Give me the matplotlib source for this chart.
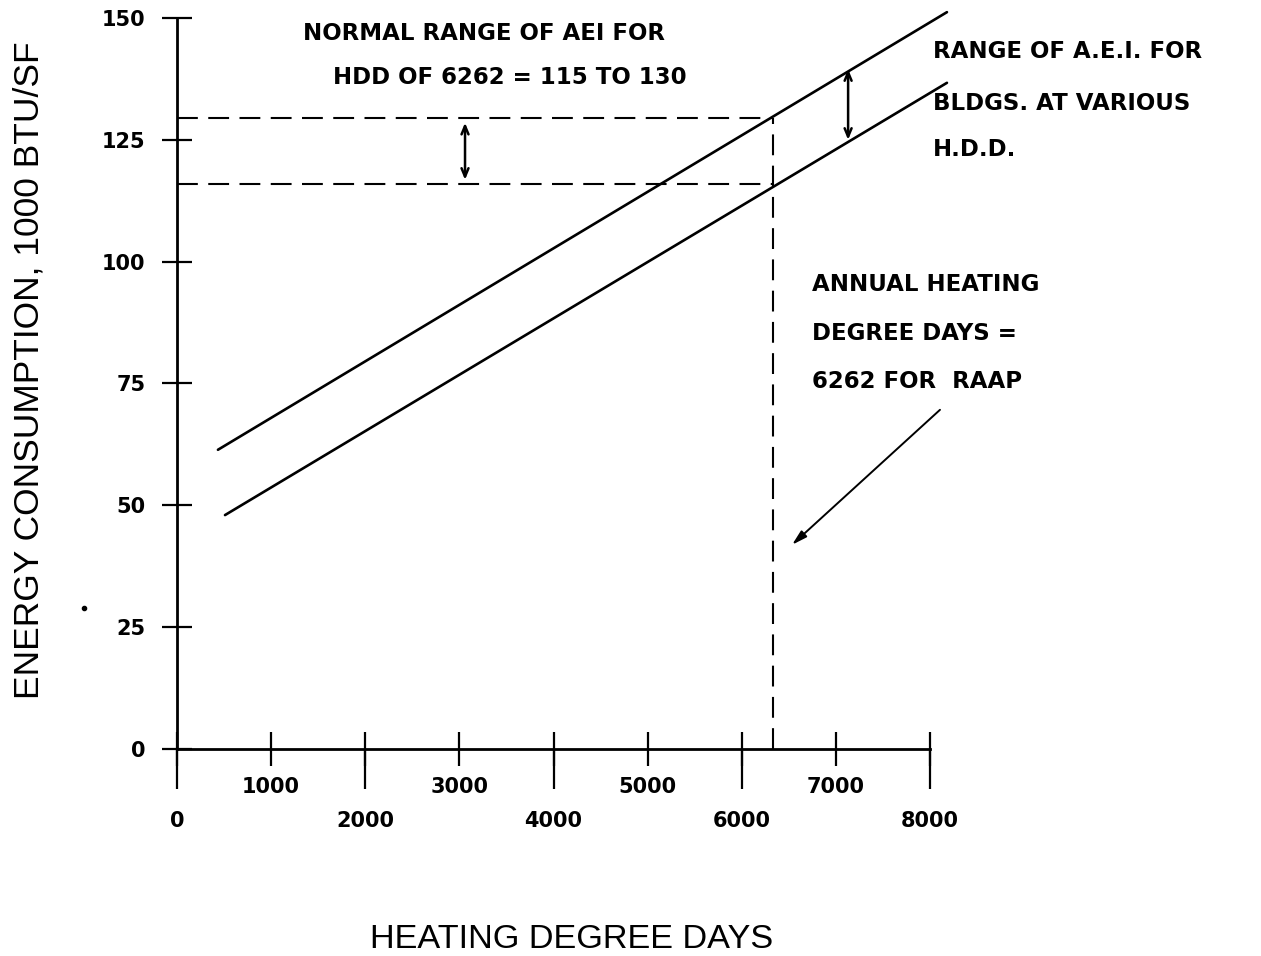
import matplotlib
matplotlib.use("Agg")
import matplotlib.pyplot as plt
from matplotlib.ticker import FixedLocator, FixedFormatter

# ---- data ----
hdd_ticks = [0, 1000, 2000, 3000, 4000, 5000, 6000, 7000, 8000]
hdd_odd_labels = ["", "1000", "", "3000", "", "5000", "", "7000", ""]
hdd_even = [0, 2000, 4000, 6000, 8000]
hdd_even_labels = ["0", "2000", "4000", "6000", "8000"]
aei_ticks = [0, 25, 50, 75, 100, 125, 150]
aei_labels = ["0", "25", "50", "75", "100", "125", "150"]

upper_hdd = [435, 8180]
upper_aei = [61.4, 151.2]
lower_hdd = [510, 8180]
lower_aei = [48.0, 136.7]

normal_low = 116.0
normal_high = 129.5
site_hdd = 6330

arrow1_hdd = 3060
arrow1_aei = [128.5, 116.8]
arrow2_hdd = 7130
arrow2_aei = [139.5, 125.0]
pointer_from = (8106, 69.6)
pointer_to = (6534, 41.9)

W, H = 1261, 956
fig = plt.figure(figsize=(W / 100, H / 100), dpi=100)
ax = fig.add_axes([177 / W, 1 - 749 / H, (930 - 177) / W, (749 - 18) / H])
ax.set_xlim(0, 8000)
ax.set_ylim(0, 150)

for s in ["top", "right"]:
    ax.spines[s].set_visible(False)
for s in ["left", "bottom"]:
    ax.spines[s].set_linewidth(2.0)

bold = dict(family="DejaVu Sans", weight="bold")

# x ticks
ax.xaxis.remove_overlapping_locs = False
ax.xaxis.set_major_locator(FixedLocator(hdd_ticks))
ax.xaxis.set_major_formatter(FixedFormatter(hdd_odd_labels))
ax.xaxis.set_minor_locator(FixedLocator(hdd_even))
ax.xaxis.set_minor_formatter(FixedFormatter(hdd_even_labels))
ax.tick_params(axis="x", which="major", direction="inout", length=25, width=1.6, pad=7.5,
               labelsize=15)
ax.tick_params(axis="x", which="minor", direction="out", length=29, width=1.6, pad=15.5,
               labelsize=15)
for lab in ax.get_xticklabels(which="both"):
    lab.set_fontweight("bold")

# y ticks
ax.yaxis.set_major_locator(FixedLocator(aei_ticks))
ax.yaxis.set_major_formatter(FixedFormatter(aei_labels))
ax.tick_params(axis="y", which="major", direction="inout", length=21.5, width=1.6, pad=12,
               labelsize=15)
for lab in ax.get_yticklabels():
    lab.set_fontweight("bold")

# lines
ax.plot(upper_hdd, upper_aei, color="black", lw=1.9, clip_on=False, solid_capstyle="round")
ax.plot(lower_hdd, lower_aei, color="black", lw=1.9, clip_on=False, solid_capstyle="round")

dash = (0, (10, 5))
ax.plot([0, site_hdd], [normal_high, normal_high], color="black", lw=1.5, linestyle=dash)
ax.plot([0, site_hdd], [normal_low, normal_low], color="black", lw=1.5, linestyle=dash)
ax.plot([site_hdd, site_hdd], [0, normal_high], color="black", lw=1.5, linestyle=dash)

arrow_kw = dict(arrowstyle="<->,head_length=0.6,head_width=0.25", lw=1.8, color="black",
                shrinkA=0, shrinkB=0)
ax.annotate("", xy=(arrow1_hdd, arrow1_aei[0]), xytext=(arrow1_hdd, arrow1_aei[1]),
            arrowprops=arrow_kw, annotation_clip=False)
ax.annotate("", xy=(arrow2_hdd, arrow2_aei[0]), xytext=(arrow2_hdd, arrow2_aei[1]),
            arrowprops=arrow_kw, annotation_clip=False)
ax.annotate("", xy=pointer_to, xytext=pointer_from,
            arrowprops=dict(arrowstyle="-|>,head_length=0.9,head_width=0.25", lw=1.4,
                            color="black", shrinkA=0, shrinkB=0),
            annotation_clip=False)

# stray dot from the scan
ax.plot([-988], [28.9], marker="o", markersize=3, color="black", clip_on=False)

def ftext(px, py, s, ha="left", **kw):
    fig.text(px / W, 1 - py / H, s, ha=ha, va="center", **kw)

note = dict(fontsize=16.5, **bold)
ftext(484, 33, "NORMAL RANGE OF AEI FOR", ha="center", **note)
ftext(510, 77, "HDD OF 6262 = 115 TO 130", ha="center", **note)
ftext(933, 52, "RANGE OF A.E.I. FOR", **note)
ftext(933, 103, "BLDGS. AT VARIOUS", **note)
ftext(933, 150, "H.D.D.", **note)
ftext(812, 285, "ANNUAL HEATING", **note)
ftext(812, 333, "DEGREE DAYS =", **note)
ftext(812, 381, "6262 FOR  RAAP", **note)

fig.text(29 / W, 1 - 370 / H, "ENERGY CONSUMPTION, 1000 BTU/SF", rotation=90,
         ha="center", va="center", fontsize=25.5, family="Liberation Sans")
fig.text(572 / W, 1 - 940 / H, "HEATING DEGREE DAYS", ha="center", va="center",
         fontsize=24.7, family="Liberation Sans")

fig.savefig("out.png", dpi=100)
